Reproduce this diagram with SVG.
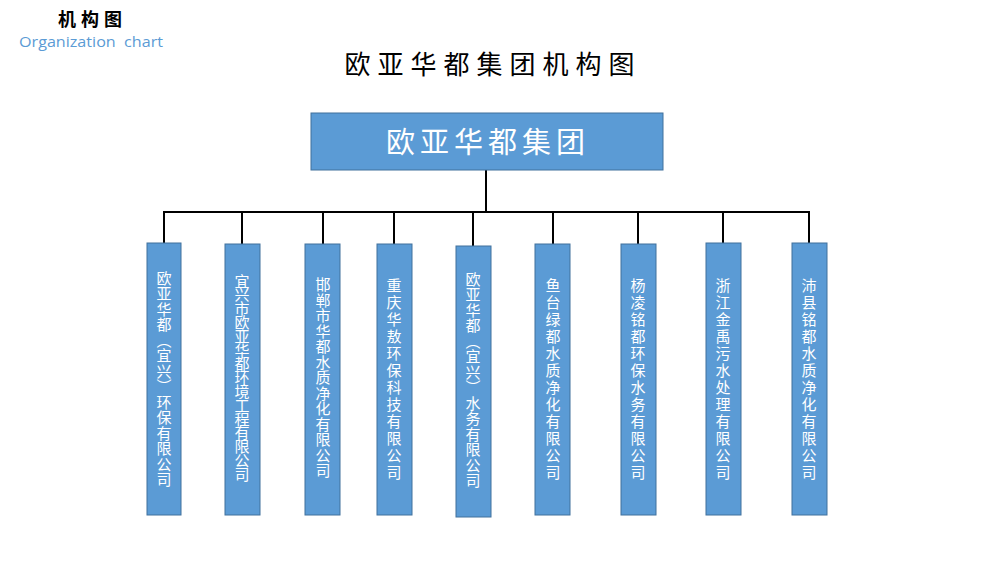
<svg xmlns="http://www.w3.org/2000/svg" width="1000" height="562" viewBox="0 0 1000 562">
<style>
.cjk{font-family:"Noto Sans CJK SC","Noto Sans",sans-serif;}
.box{fill:#5b9bd5;stroke:#41719c;stroke-width:1;}
.vt{font-family:"Noto Sans CJK SC",sans-serif;font-size:15px;fill:#ffffff;writing-mode:vertical-rl;text-anchor:middle;text-spacing-trim:space-all;}
.ln{stroke:#000000;stroke-width:2;fill:none;}
</style>
<rect width="1000" height="562" fill="#ffffff"/>
<g id="header">
<text class="cjk" x="58" y="26" font-size="18" font-weight="bold" letter-spacing="5" fill="#000">机构图</text>
<text x="19" y="47" font-family="Open Sans, sans-serif" font-size="15" fill="#5b9bd5" textLength="144" lengthAdjust="spacingAndGlyphs" xml:space="preserve">Organization  chart</text>
<text class="cjk" x="493" y="74" font-size="26" letter-spacing="7" text-anchor="middle" fill="#000">欧亚华都集团机构图</text>
</g>
<g id="connectors">
<line class="ln" x1="486" y1="170" x2="486" y2="212"/>
<line class="ln" x1="163" y1="212" x2="810" y2="212"/>
<line class="ln" x1="164" y1="211" x2="164" y2="243"/>
<line class="ln" x1="242" y1="211" x2="242" y2="244"/>
<line class="ln" x1="323" y1="211" x2="323" y2="244"/>
<line class="ln" x1="394" y1="211" x2="394" y2="244"/>
<line class="ln" x1="473" y1="211" x2="473" y2="246"/>
<line class="ln" x1="553" y1="211" x2="553" y2="244"/>
<line class="ln" x1="638" y1="211" x2="638" y2="244"/>
<line class="ln" x1="723" y1="211" x2="723" y2="243"/>
<line class="ln" x1="809" y1="211" x2="809" y2="243"/>
</g>
<g id="root">
<rect class="box" x="311" y="113" width="352" height="57"/>
<text class="cjk" x="488" y="153" font-size="29" letter-spacing="5" text-anchor="middle" fill="#fff">欧亚华都集团</text>
</g>
<g id="n1">
<rect class="box" x="147" y="243" width="34" height="272"/>
<text class="vt" x="164" y="379" letter-spacing="0.5">欧亚华都（宜兴）环保有限公司</text>
</g>
<g id="n2">
<rect class="box" x="225" y="244" width="35" height="271"/>
<text class="vt" x="242" y="377" letter-spacing="-1.2">宜兴市欧亚华都环境工程有限公司</text>
</g>
<g id="n3">
<rect class="box" x="305" y="244" width="35" height="271"/>
<text class="vt" x="323" y="378" letter-spacing="0.5">邯郸市华都水质净化有限公司</text>
</g>
<g id="n4">
<rect class="box" x="377" y="244" width="35" height="271"/>
<text class="vt" x="394" y="380" letter-spacing="2">重庆华敖环保科技有限公司</text>
</g>
<g id="n5">
<rect class="box" x="456" y="246" width="35" height="271"/>
<text class="vt" x="473" y="380" letter-spacing="0.5">欧亚华都（宜兴）水务有限公司</text>
</g>
<g id="n6">
<rect class="box" x="535" y="244" width="35" height="271"/>
<text class="vt" x="553" y="380" letter-spacing="2">鱼台绿都水质净化有限公司</text>
</g>
<g id="n7">
<rect class="box" x="621" y="244" width="35" height="271"/>
<text class="vt" x="638" y="380" letter-spacing="2">杨凌铭都环保水务有限公司</text>
</g>
<g id="n8">
<rect class="box" x="706" y="243" width="35" height="272"/>
<text class="vt" x="723" y="380" letter-spacing="2">浙江金禹污水处理有限公司</text>
</g>
<g id="n9">
<rect class="box" x="792" y="243" width="35" height="272"/>
<text class="vt" x="809" y="380" letter-spacing="2">沛县铭都水质净化有限公司</text>
</g>
</svg>
